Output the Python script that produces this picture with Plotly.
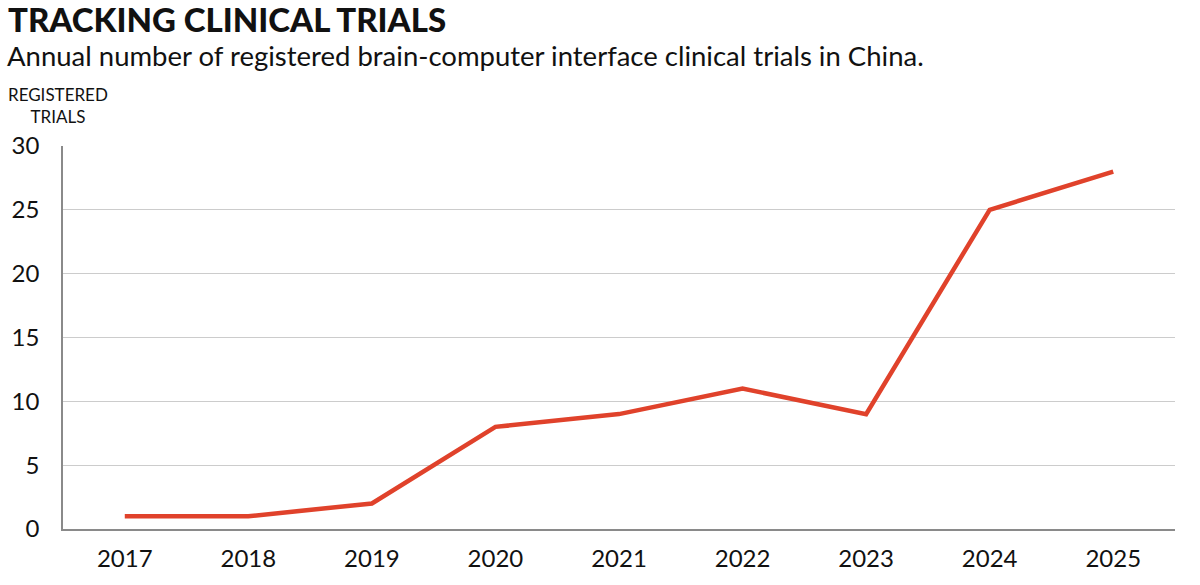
import plotly.graph_objects as go

years = ["2017", "2018", "2019", "2020", "2021", "2022", "2023", "2024", "2025"]
trials = [1, 1, 2, 8, 9, 11, 9, 25, 28]
y_ticks = [0, 5, 10, 15, 20, 25, 30]

W, H = 1200, 585
ML, MR, MT, MB = 63, 25, 146, 56
PW, PH = W - ML - MR, H - MT - MB

def px_x(x):
    return (x - ML) / PW

def px_y(y):
    return (H - MB - y) / PH

fig = go.Figure()
fig.add_trace(go.Scatter(
    x=years, y=trials, mode="lines",
    line=dict(color="#E0422B", width=4.5),
    hoverinfo="x+y", showlegend=False,
))

font_main = "Lato, 'Open Sans', sans-serif"

fig.update_layout(
    width=W, height=H,
    margin=dict(l=ML, r=MR, t=MT, b=MB),
    paper_bgcolor="white", plot_bgcolor="white",
    font=dict(family=font_main, color="#111111"),
    xaxis=dict(
        type="category", range=[-0.5, 8.5],
        showgrid=False, showline=True, linecolor="#8a8a8a", linewidth=1.5,
        ticks="", tickfont=dict(size=24, color="#111111"),
        ticklabelstandoff=7, zeroline=False,
    ),
    yaxis=dict(
        range=[0, 30], tickvals=y_ticks,
        showgrid=True, gridcolor="#cccccc", gridwidth=1,
        showline=True, linecolor="#8a8a8a", linewidth=1.5,
        ticks="", tickfont=dict(size=24, color="#111111"),
        ticklabelstandoff=17, zeroline=False,
    ),
    annotations=[
        dict(text="<b>TRACKING CLINICAL TRIALS</b>", xref="paper", yref="paper",
             x=px_x(6), y=px_y(19), xanchor="left", yanchor="middle",
             showarrow=False, font=dict(size=33, family="Lato Black, Lato, sans-serif", color="#111111")),
        dict(text="Annual number of registered brain-computer interface clinical trials in China.",
             xref="paper", yref="paper", x=px_x(5), y=px_y(56), xanchor="left", yanchor="middle",
             showarrow=False, font=dict(size=27.5, color="#111111")),
        dict(text="REGISTERED<br>TRIALS", xref="paper", yref="paper",
             x=px_x(58), y=px_y(106), xanchor="center", yanchor="middle", align="center",
             showarrow=False, font=dict(size=17, color="#111111")),
    ],
)

fig.write_html("out.html")
